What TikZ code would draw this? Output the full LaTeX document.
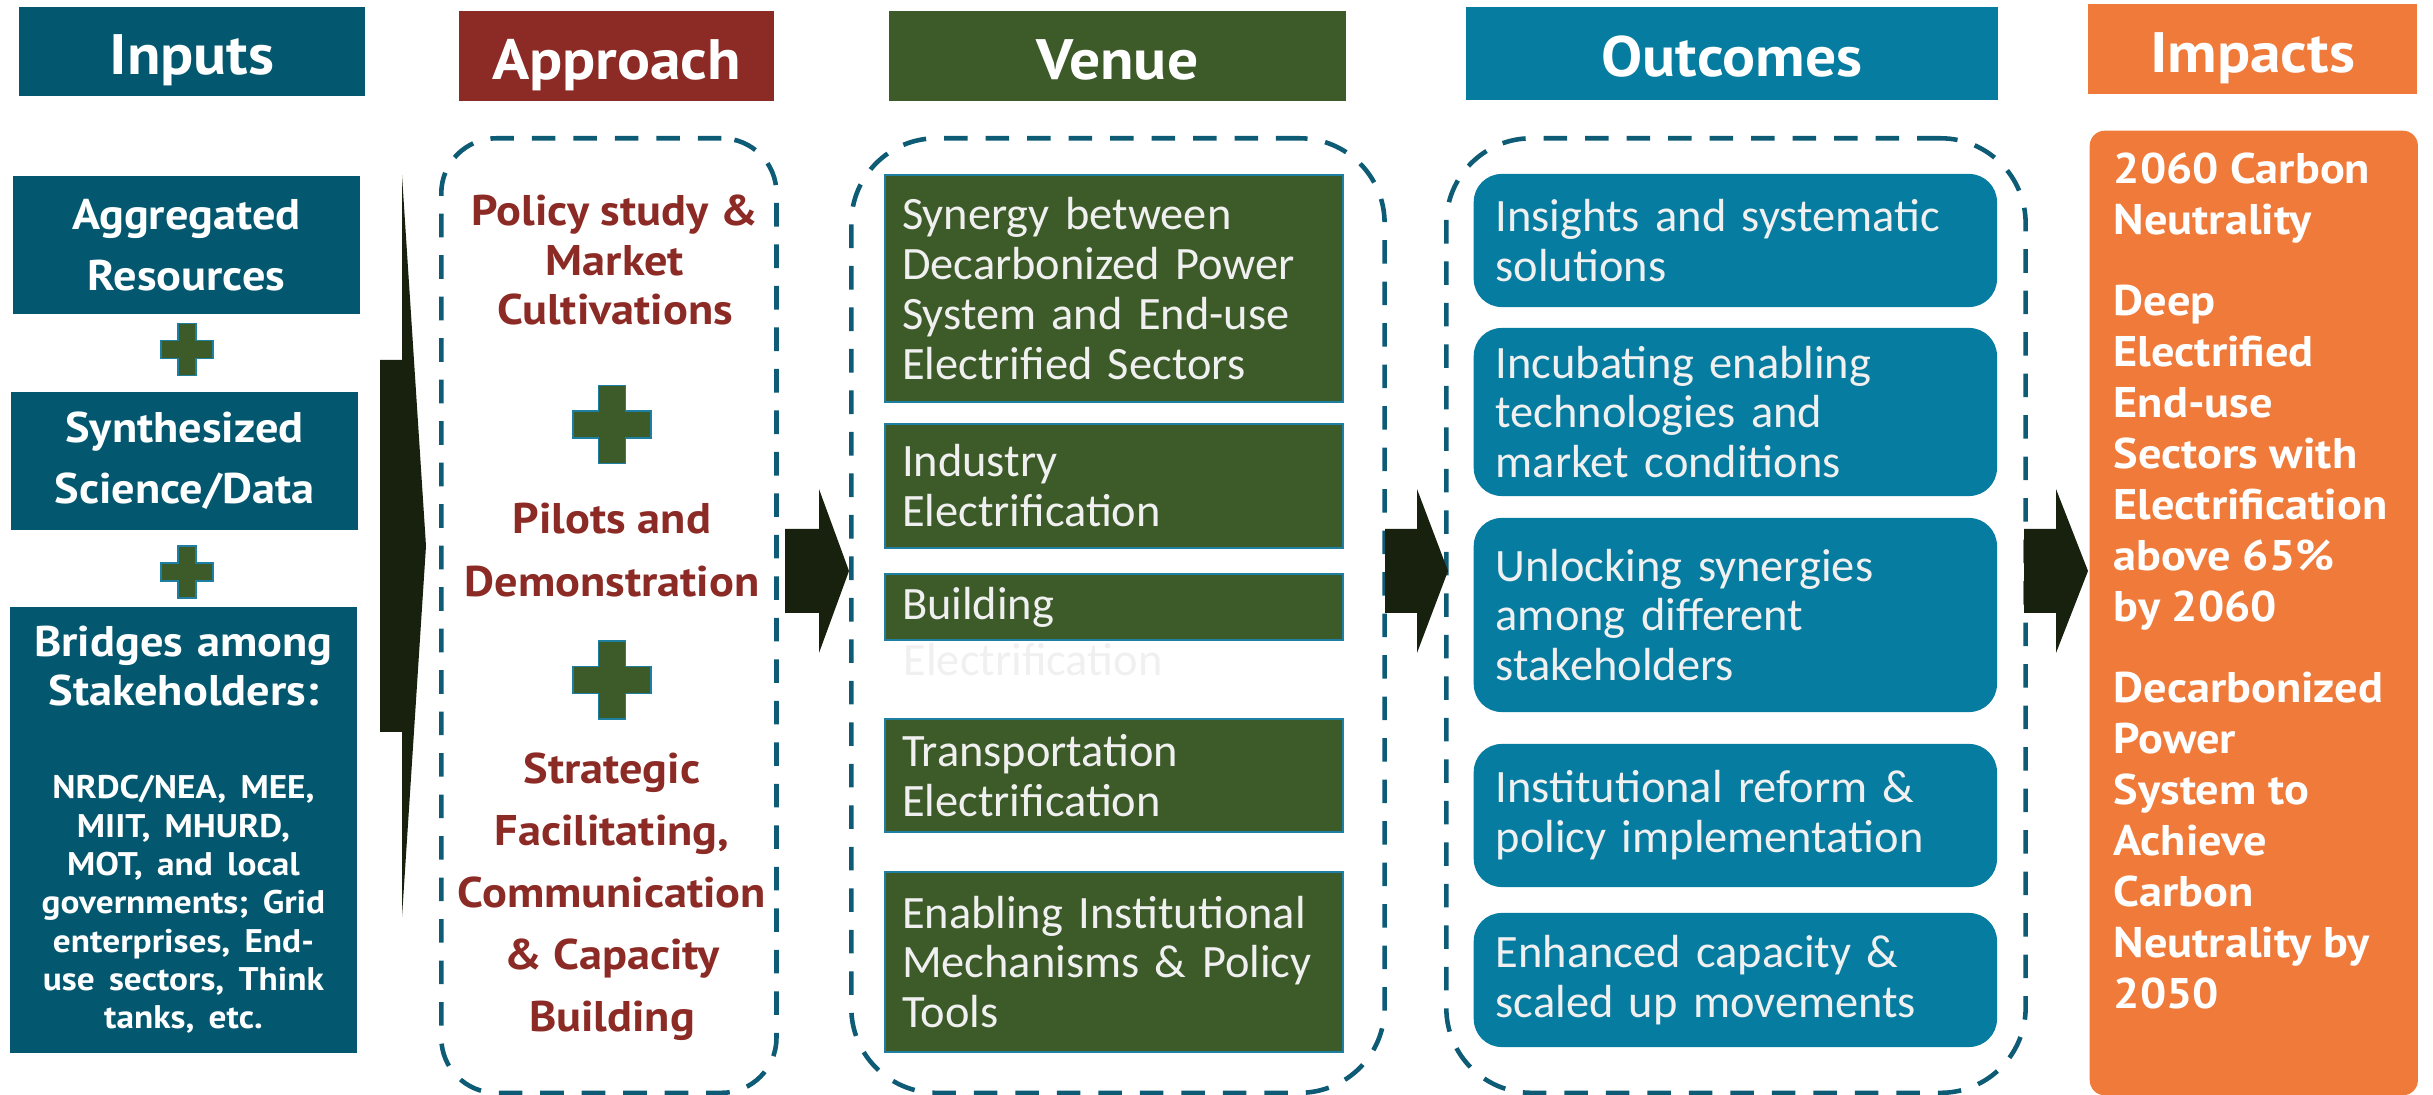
\documentclass[tikz,border=0pt]{standalone}
\usepackage{fontspec}
\usetikzlibrary{positioning}
\newfontfamily\hfont{PT Sans}[FakeStretch=1.08]
\newfontfamily\bfont{Carlito}
\hyphenpenalty=10000

\definecolor{inteal}{HTML}{03586F}
\definecolor{apred}{HTML}{8C2B25}
\definecolor{vgreen}{HTML}{3D5A29}
\definecolor{oblue}{HTML}{067CA0}
\definecolor{imorange}{HTML}{EF7A3A}
\definecolor{dashteal}{HTML}{0D5B74}
\definecolor{arrowdk}{HTML}{18210D}
\definecolor{edgeblue}{HTML}{1E7FA0}

\tikzstyle{hdr} = [text=white, font=\hfont\bfseries\fontsize{16.2}{19}\selectfont, inner sep=0pt, text height=0.46cm, text depth=0pt]
\tikzstyle{inbox} = [fill=inteal, text=white, font=\hfont\bfseries\fontsize{12.2}{17.4}\selectfont, align=center, minimum width=3.47cm, minimum height=1.38cm, inner sep=0pt]
\tikzstyle{dashbox} = [draw=dashteal, line width=1.3pt, dash pattern=on 6.7pt off 5.1pt, anchor=north west, inner sep=0pt]
\tikzstyle{apptxt} = [text=apred, font=\hfont\bfseries\fontsize{12.2}{14.2}\selectfont, align=center, inner sep=0pt]
\tikzstyle{vbox} = [fill=vgreen, draw=edgeblue, line width=0.6pt, text=white!94!black, font=\bfont\fontsize{13.2}{14.2}\selectfont, align=left, text width=4.24cm, inner xsep=0.17cm, inner ysep=0pt, anchor=west]
\tikzstyle{obox} = [fill=oblue, text=white!94!black, font=\bfont\fontsize{13.2}{14.2}\selectfont, align=left, text width=4.79cm, inner xsep=0.22cm, inner ysep=0pt, rounded corners=0.28cm, anchor=west]
\tikzstyle{imptxt} = [text=white, font=\hfont\bfseries\fontsize{12.2}{14.5}\selectfont, align=left, inner sep=0pt]
\tikzstyle{plusst} = [fill=vgreen, draw=edgeblue, line width=0.5pt]

\newcommand{\plusmk}[4]{%
  \draw[plusst] ({#1-#4},{#2-#3}) -- ({#1+#4},{#2-#3}) -- ({#1+#4},{#2-#4}) -- ({#1+#3},{#2-#4})
    -- ({#1+#3},{#2+#4}) -- ({#1+#4},{#2+#4}) -- ({#1+#4},{#2+#3}) -- ({#1-#4},{#2+#3})
    -- ({#1-#4},{#2+#4}) -- ({#1-#3},{#2+#4}) -- ({#1-#3},{#2-#4}) -- ({#1-#4},{#2-#4}) -- cycle;}
\newcommand{\bigarrow}[6]{%
  \fill[arrowdk] ({#1},{#4-#5}) -- ({#2},{#4-#5}) -- ({#2},{#4-#6}) -- ({#3},{#4})
    -- ({#2},{#4+#6}) -- ({#2},{#4+#5}) -- ({#1},{#4+#5}) -- cycle;}

\begin{document}
\begin{tikzpicture}[x=0.01cm, y=-0.01cm]
\useasboundingbox (0,0) rectangle (2433,1095);

\node[hdr, fill=inteal, minimum width=3.46cm, minimum height=0.89cm] (hin) at (192,51.5) {Inputs};
\node[hdr, fill=apred, minimum width=3.15cm, minimum height=0.90cm] (happ) at (616.5,56) {Approach};
\node[hdr, fill=vgreen, minimum width=4.57cm, minimum height=0.90cm] (hven) at (1117.5,56) {Venue};
\node[hdr, fill=oblue, minimum width=5.32cm, minimum height=0.93cm] (hout) at (1732,53.5) {Outcomes};
\node[hdr, fill=imorange, minimum width=3.29cm, minimum height=0.90cm] (himp) at (2252.5,49) {Impacts};

\node[inbox] (agg) at (186.5,245) {Aggregated\\Resources};
\node[inbox] (syn) at (184.5,461) {Synthesized\\Science/Data};
\node[inbox, minimum height=4.46cm, text width=3.35cm] (brg) at (183.5,830) {%
  {\fontsize{12.2}{13.9}\selectfont Bridges among\\Stakeholders:\par}
  \vspace{15.6pt}
  {\fontsize{9.3}{10.9}\selectfont NRDC/NEA, MEE,\\MIIT, MHURD,\\MOT, and local\\governments; Grid\\enterprises, End-\\use sectors, Think\\tanks, etc.\par}};
\plusmk{187}{349.5}{26}{9}
\plusmk{187}{572}{26}{9}

\node[dashbox, rounded corners=0.55cm, minimum width=3.35cm, minimum height=9.54cm] (appr) at (439,136) {};
\node[apptxt] (pol) at (615,260) {Policy study \&\\Market\\Cultivations};
\node[apptxt, font=\hfont\bfseries\fontsize{12.2}{17.9}\selectfont] (pil) at (612,550) {Pilots and\\Demonstration};
\node[apptxt, font=\hfont\bfseries\fontsize{12.2}{17.6}\selectfont] (str) at (612,897) {Strategic\\Facilitating,\\Communication\\\& Capacity\\Building};
\plusmk{612}{424.5}{39}{13.5}
\plusmk{612}{680}{39}{13.5}

\node[dashbox, rounded corners=0.85cm, minimum width=5.33cm, minimum height=9.54cm] (ven) at (849,136) {};
\node[vbox, minimum height=2.27cm] (vsyn) at (884,288.5) {Synergy between\\Decarbonized Power\\System and End-use\\Electrified Sectors};
\node[vbox, minimum height=1.24cm] (vind) at (884,486) {Industry\\Electrification};
\node[vbox, minimum height=0.66cm] (vbld) at (884,607) {Building};
\node[anchor=base west, inner sep=0pt, text=black!6, font=\bfont\fontsize{13.2}{14.2}\selectfont] (vbldx) at (903,676) {Electrification};
\node[vbox, minimum height=1.13cm] (vtrn) at (884,775.5) {Transportation\\Electrification};
\node[vbox, minimum height=1.80cm] (venb) at (884,962) {Enabling Institutional\\Mechanisms \& Policy\\Tools};

\node[dashbox, rounded corners=0.85cm, minimum width=5.79cm, minimum height=9.54cm] (outc) at (1444,136) {};
\node[obox, minimum height=1.33cm] (oins) at (1473,240.5) {Insights and systematic\\solutions};
\node[obox, minimum height=1.68cm] (oinc) at (1473,412) {Incubating enabling\\technologies and\\market conditions};
\node[obox, minimum height=1.94cm] (ounl) at (1473,615) {Unlocking synergies\\among different\\stakeholders};
\node[obox, minimum height=1.43cm] (oins2) at (1473,815.5) {Institutional reform \&\\policy implementation};
\node[obox, minimum height=1.34cm] (oenh) at (1473,980) {Enhanced capacity \&\\scaled up movements};

\node[fill=imorange, rounded corners=0.15cm, minimum width=3.28cm, minimum height=9.64cm, anchor=north west, inner sep=0pt] (impbox) at (2089,130) {};
\node[imptxt, below right=0.22cm and 0.24cm of impbox.north west] (imptext) {2060 Carbon\\Neutrality\\[0.3cm]Deep\\Electrified\\End-use\\Sectors with\\Electrification\\above 65\%\\by 2060\\[0.3cm]Decarbonized\\Power\\System to\\Achieve\\Carbon\\Neutrality by\\2050};

\bigarrow{380}{402}{426}{546}{186}{371}
\bigarrow{785}{819}{849}{571}{42}{82}
\bigarrow{1385}{1417}{1448}{571}{42}{82}
\bigarrow{2024}{2056}{2088}{571}{42}{82}
\end{tikzpicture}
\end{document}
